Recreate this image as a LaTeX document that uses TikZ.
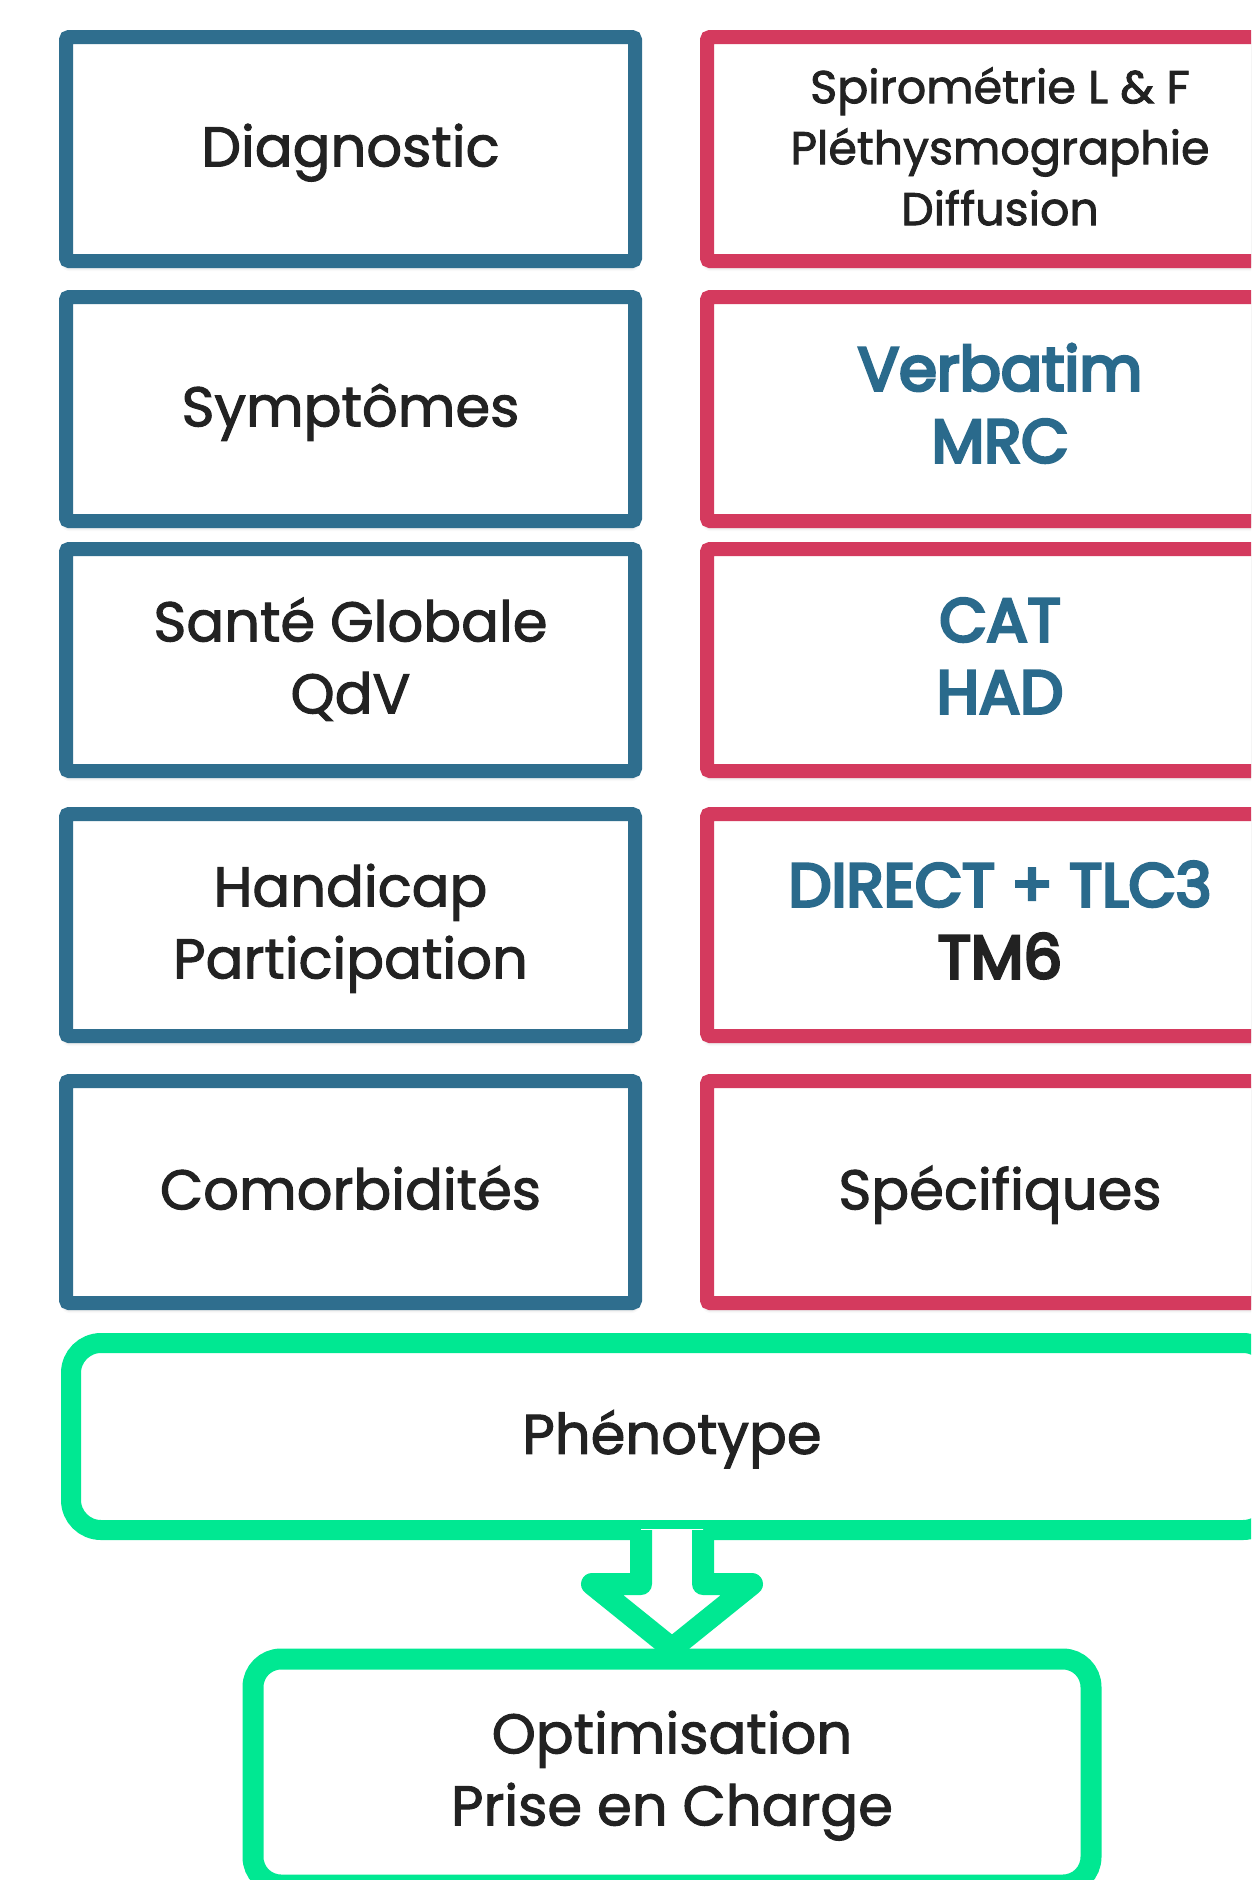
\documentclass[tikz,border=0pt]{standalone}
\usepackage{fontspec}
\setmainfont{Poppins}
\newfontfamily\regfont{Poppins}[FakeBold=1.8]
\newfontfamily\medfont{Poppins}[FakeBold=5]
\usetikzlibrary{calc,shadows.blur}
\definecolor{bbox}{RGB}{47,110,142}
\definecolor{rbox}{RGB}{212,58,94}
\definecolor{gbox}{RGB}{0,232,146}
\definecolor{tblue}{RGB}{42,106,140}
\definecolor{tblack}{RGB}{34,34,34}
\newcommand{\lbltxt}[1]{\raisebox{-3pt}[\height][\depth]{\begin{tabular}{@{}c@{}}#1\end{tabular}}}
\begin{document}
\begin{tikzpicture}[x=1pt,y=-1pt,
  cell/.style={rectangle, rounded corners=3pt, line width=14pt, fill=white,
    minimum height=224pt, inner sep=0pt, text=tblack,
    font=\regfont\fontsize{56}{72}\selectfont,
    blur shadow={shadow xshift=0pt, shadow yshift=-5pt, shadow blur radius=5pt, shadow opacity=35}},
  bluecell/.style={cell, draw=bbox, minimum width=569pt},
  redcell/.style={cell, draw=rbox, minimum width=586pt},
  smalltext/.style={font=\regfont\fontsize{46}{61}\selectfont},
  bigtext/.style={font=\medfont\fontsize{61}{72}\selectfont},
  greenbox/.style={rectangle, draw=gbox, fill=white, inner sep=0pt,
    text=tblack, font=\regfont\fontsize{56}{72}\selectfont}]
\useasboundingbox (0,0) rectangle (1251,1880);
\begin{pgfinterruptboundingbox}
\clip (0,0) rectangle (1251,1880);
% left column
\node[bluecell] (diag) at (350.5,149) {\lbltxt{Diagnostic}};
\node[bluecell] (symp) at (350.5,409) {\lbltxt{Symptômes}};
\node[bluecell, minimum height=222pt] (sante) at (350.5,660) {\lbltxt{Santé Globale\\QdV}};
\node[bluecell, minimum height=222pt] (handi) at (350.5,925) {\lbltxt{Handicap\\Participation}};
\node[bluecell, minimum height=222pt] (comor) at (350.5,1192) {\lbltxt{Comorbidités}};
% right column
\node[redcell, smalltext] (spiro) at (1000,149) {\lbltxt{Spirométrie L \& F\\Pléthysmographie\\Diffusion}};
\node[redcell, bigtext, text=tblue] (verb) at (1000,409) {\lbltxt{Verbatim\\MRC}};
\node[redcell, bigtext, text=tblue, minimum height=222pt] (cat) at (1000,660) {\lbltxt{CAT\\HAD}};
\node[redcell, bigtext, minimum height=222pt] (direct) at (1000,925) {\lbltxt{\textcolor{tblue}{DIRECT + TLC3}\\TM6}};
\node[redcell, minimum height=222pt] (spec) at (1000,1192) {\lbltxt{Spécifiques}};
% phenotype
\node[greenbox, line width=20pt, rounded corners=30pt, minimum width=1202pt, minimum height=187pt] (phen) at (672,1436.5) {\lbltxt{Phénotype}};
% arrow
\fill[white] ($(phen.south)+(-31,-11)$) -- ($(phen.south)+(-31,44)$) -- ($(phen.south)+(-80,44)$)
  -- ($(phen.south)+(0,129)$) -- ($(phen.south)+(80,44)$) -- ($(phen.south)+(31,44)$)
  -- ($(phen.south)+(31,-11)$) -- cycle;
\node[greenbox, line width=21pt, rounded corners=28pt, minimum width=838pt, minimum height=226pt] (opt) at (672,1772) {\lbltxt{Optimisation\\Prise en Charge}};
\draw[gbox, line width=22pt, line join=round] ($(phen.south)+(-31,-10)$) -- ($(phen.south)+(-31,44)$)
  -- ($(phen.south)+(-80,44)$) -- (opt.north) -- ($(phen.south)+(80,44)$)
  -- ($(phen.south)+(31,44)$) -- ($(phen.south)+(31,-10)$);
\end{pgfinterruptboundingbox}
\end{tikzpicture}
\end{document}
